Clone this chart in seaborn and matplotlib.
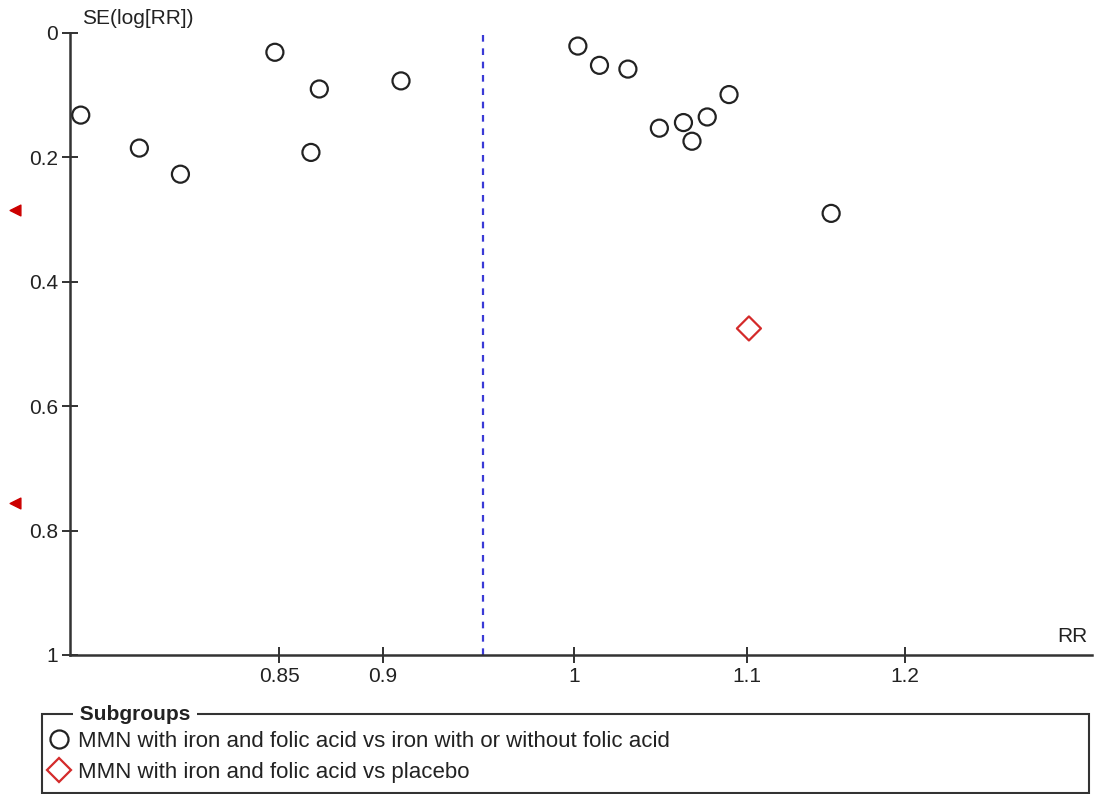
import numpy as np
import pandas as pd
import matplotlib
matplotlib.use("Agg")
import matplotlib.pyplot as plt
import seaborn as sns
from matplotlib.lines import Line2D
from matplotlib.patches import Rectangle
from matplotlib.ticker import FixedLocator, FixedFormatter, NullLocator

# study estimates
rr_iron = [0.762, 0.787, 0.805, 0.848, 0.869, 0.865, 0.909,
           1.002, 1.014, 1.030, 1.089, 1.048, 1.062, 1.076, 1.067, 1.152]
se_iron = [0.132, 0.185, 0.227, 0.031, 0.090, 0.192, 0.077,
           0.021, 0.052, 0.058, 0.099, 0.153, 0.144, 0.135, 0.174, 0.290]
rr_placebo = [1.101]
se_placebo = [0.475]
se_offscale = [0.285, 0.756]   # studies outside the RR range (drawn as arrows)
pooled_rr = 0.951

x_ticks = [0.85, 0.9, 1, 1.1, 1.2]
x_labels = ["0.85", "0.9", "1", "1.1", "1.2"]
y_ticks = [0, 0.2, 0.4, 0.6, 0.8, 1]
y_labels = ["0", "0.2", "0.4", "0.6", "0.8", "1"]
groups = ["MMN with iron and folic acid vs iron with or without folic acid",
          "MMN with iron and folic acid vs placebo"]

df_iron = pd.DataFrame({"RR": rr_iron, "SE": se_iron})
df_plac = pd.DataFrame({"RR": rr_placebo, "SE": se_placebo})

sns.set_style("white")
plt.rcParams["font.family"] = ["Liberation Sans", "DejaVu Sans"]
fs = 15

fig = plt.figure(figsize=(11, 7.94), dpi=100)
ax = fig.add_axes([70/1100, 1-655/794, (1092-70)/1100, (655-33)/794])

dark = "#222222"
red = "#d42a2a"
sns.scatterplot(data=df_iron, x="RR", y="SE", ax=ax, marker="o", s=150,
                facecolors="none", edgecolors=dark, linewidth=1.6, zorder=3)
sns.scatterplot(data=df_plac, x="RR", y="SE", ax=ax, marker="D", s=150,
                facecolors="none", edgecolors=red, linewidth=1.6, zorder=3)

ax.axvline(pooled_rr, ymin=0, ymax=1, color="#3a3ad6", lw=1.6,
           ls=(0, (3, 3)), zorder=2)

# off-scale markers to the left of the y axis
ax.scatter([-0.054]*len(se_offscale), se_offscale, marker="<", s=60,
           color="#cc0000", transform=ax.get_yaxis_transform(), clip_on=False)

ax.set_xscale("log")
ax.set_xlim(0.7575, 1.33)
ax.set_ylim(1, 0)
ax.xaxis.set_major_locator(FixedLocator(x_ticks))
ax.xaxis.set_major_formatter(FixedFormatter(x_labels))
ax.xaxis.set_minor_locator(NullLocator())
ax.set_yticks(y_ticks)
ax.set_yticklabels(y_labels)

for side in ["top", "right"]:
    ax.spines[side].set_visible(False)
for side in ["left", "bottom"]:
    ax.spines[side].set_color("#333333")
    ax.spines[side].set_linewidth(1.8)
ax.tick_params(bottom=True, left=True, direction="inout", length=11, width=1.3,
               color="#222222", labelsize=fs, labelcolor="#222222", pad=3)

ax.set_ylabel("SE(log[RR])", rotation=0, ha="left", va="center",
              fontsize=fs, color="#222222")
ax.yaxis.set_label_coords(0.012, 1.024)
ax.set_xlabel("RR", ha="right", va="center", fontsize=fs, color="#222222")
ax.xaxis.set_label_coords(0.996, 0.029)

# legend box in the style of a fieldset
fig.patches.append(Rectangle((42/1100, 1-793/794), (1089-42)/1100, (793-714)/794,
                             transform=fig.transFigure, fill=False,
                             edgecolor="#333333", lw=1.5))
fig.text(74/1100, 1-714/794, " Subgroups ", fontsize=fs, weight="bold",
         color="#222222", va="center", ha="left",
         bbox=dict(facecolor="white", edgecolor="none", pad=0.5))
handles = [Line2D([], [], ls="none", marker="o", ms=13, mfc="none", mec=dark, mew=1.6),
           Line2D([], [], ls="none", marker="D", ms=12, mfc="none", mec=red, mew=1.6)]
fig.legend(handles, groups, loc="upper left", bbox_to_anchor=(48/1100, 1-731/794),
           frameon=False, handlelength=1.0, handletextpad=0.35, labelspacing=0.43,
           borderaxespad=0, borderpad=0, fontsize=16, labelcolor="#222222")

fig.savefig("out.png", dpi=100)
